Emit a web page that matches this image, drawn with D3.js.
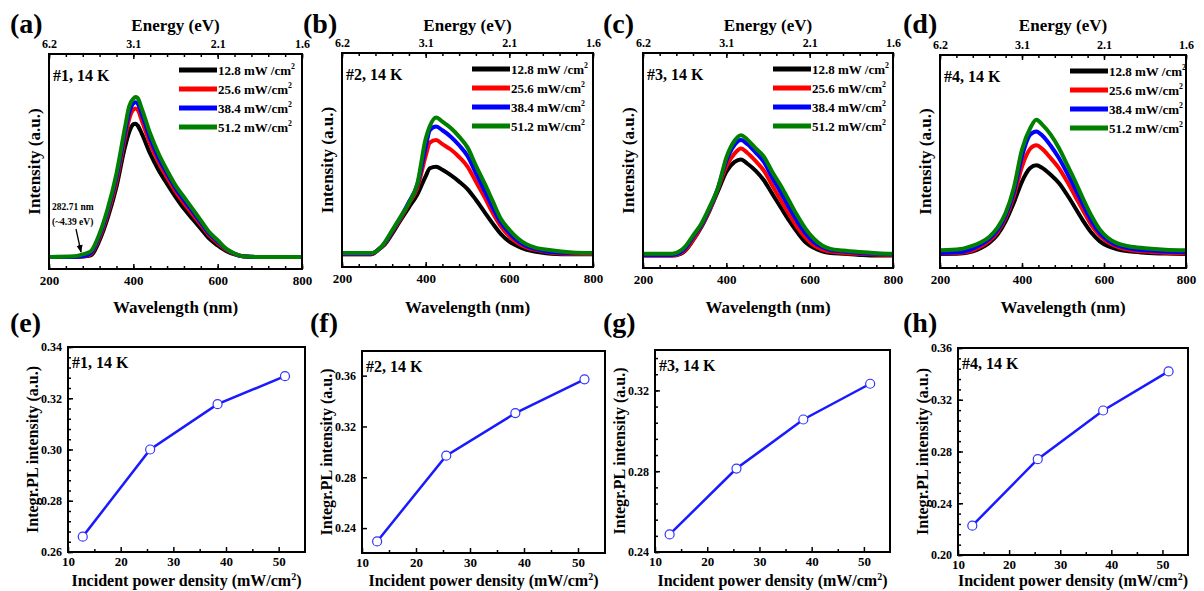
<!DOCTYPE html>
<html>
<head>
<meta charset="utf-8">
<script src="https://cdn.jsdelivr.net/npm/d3@7"></script>
<style>
  body { margin: 0; background: #fff; }
  svg { display: block; }
  svg text { font-family: "Liberation Serif", "Times New Roman", Times, "DejaVu Serif", serif !important; font-weight: bold; fill: #000; }
</style>
</head>
<body>
<div id="chart"></div>
<script>
// ---- data ----
const powers = [12.8, 25.6, 38.4, 51.2];
const legendLabels = ['12.8 mW /cm', '25.6 mW/cm', '38.4 mW/cm', '51.2 mW/cm'];
const seriesColors = ['#000000', '#ff0000', '#0000ff', '#008000'];
const wlTicks = [200, 400, 600, 800];
const energyLabels = ['6.2', '3.1', '2.1', '1.6'];

// (a) sample #1
const wlA = [200, 260, 280, 290, 300, 320, 340, 360, 380, 390, 400, 405, 410, 420, 440, 460, 480, 500, 520, 540, 560, 580, 600, 620, 640, 660, 700, 800];
const a128 = [0, 0, 0.2, 0.4, 0.8, 7.8, 18.6, 32.6, 51, 58, 61.7, 62, 61.2, 57.4, 48, 40.3, 34, 28, 22.5, 17.8, 13.2, 8.5, 5.4, 2.8, 1.2, 0.3, 0, 0];
const a256 = [0, 0, 0.3, 0.6, 1.5, 9, 20.5, 35, 55, 64, 68.5, 69, 68.5, 63.5, 52.5, 44, 37, 30.5, 25, 20, 15, 10, 6.5, 3.3, 1.4, 0.3, 0, 0];
const a384 = [0, 0, 0.4, 0.8, 2, 10, 21.8, 37, 57.5, 67, 71.5, 72, 71.5, 66.5, 55, 46, 38.8, 32, 26.5, 21.3, 16, 10.8, 7.2, 3.6, 1.5, 0.3, 0, 0];
const a512 = [0, 0.3, 1.2, 1.8, 2.8, 10.9, 23, 38.8, 60, 70, 73.6, 74.4, 74, 69, 57.4, 48, 40.3, 33.3, 27.9, 22.5, 17, 11.6, 7.8, 3.9, 1.6, 0.3, 0, 0];

// (b) sample #2
const wlB = [200, 270, 290, 300, 320, 340, 360, 380, 400, 410, 425, 440, 460, 480, 500, 520, 540, 560, 580, 600, 620, 640, 660, 700, 750, 800];
const b128 = [0, 0, 2.7, 4.2, 9.7, 16, 22, 28, 36.5, 40.2, 41, 39.5, 37, 34, 30.5, 25.5, 20, 14.5, 9.5, 6, 3.8, 2.2, 1.3, 0.3, 0, 0];
const b256 = [0, 0, 2.7, 4.5, 10.5, 16.7, 23.7, 31, 46, 52.2, 53.4, 51.5, 49, 45.5, 41, 34, 27, 19.5, 13, 8.5, 5.3, 3.3, 2.2, 0.8, 0.3, 0.2];
const b384 = [0.3, 0.3, 2.7, 4.7, 10.8, 17.2, 24.5, 32.5, 50, 58, 59.7, 58, 55, 51, 46, 38, 30, 22, 14.8, 10, 6.3, 4, 2.7, 1.1, 0.6, 0.5];
const b512 = [0.6, 0.6, 2.7, 5, 11.2, 17.5, 24, 33, 54, 60, 64, 62, 59, 55, 50, 41.5, 33.5, 25, 16.5, 11.5, 7.5, 4.8, 3.3, 1.9, 0.9, 0.6];

// (c) sample #3
const wlC = [200, 270, 290, 300, 320, 340, 360, 380, 400, 420, 435, 450, 470, 490, 510, 530, 550, 570, 590, 610, 630, 650, 680, 720, 760, 800];
const c128 = [0, 0, 0.8, 2, 7, 13.2, 21, 30, 39, 43.6, 44.7, 42.8, 39.5, 35, 28.8, 22.6, 16.4, 10.9, 6.2, 3.6, 2, 1.2, 0.8, 0.3, 0, 0];
const c256 = [0, 0, 1, 2.3, 7.3, 13.6, 21.3, 31, 41.5, 47.5, 49.8, 47.8, 44, 39.5, 32.7, 26, 19.5, 13.2, 8.3, 4.7, 2.8, 1.9, 1.2, 0.8, 0.5, 0.3];
const c384 = [0.3, 0.3, 1.5, 3.1, 8.6, 14.2, 22, 31.5, 44, 51.5, 53.7, 51.9, 48, 43.5, 36.3, 29.6, 22.6, 16, 10.4, 6.2, 3.9, 2.6, 1.9, 1.2, 0.8, 0.6];
const c512 = [0.8, 0.8, 2.3, 3.9, 9.3, 14.8, 22.6, 31.5, 45.5, 53.5, 56, 54, 50, 46, 39, 32.7, 25.7, 18.7, 12.5, 7.8, 4.7, 3.1, 2.3, 1.6, 1.1, 0.8];

// (d) sample #4
const wlD = [200, 250, 280, 300, 320, 340, 360, 380, 400, 420, 435, 450, 470, 490, 510, 530, 550, 570, 590, 610, 630, 660, 700, 750, 800];
const d128 = [0, 0.2, 1.2, 2.8, 5.2, 9, 15.3, 24, 34, 40.3, 41.6, 40.3, 37.2, 33.3, 27.8, 21.6, 15.3, 9.8, 5.9, 3.6, 2.3, 1.2, 0.6, 0.2, 0];
const d256 = [0.2, 0.5, 1.7, 3.6, 6.1, 10.2, 16.9, 27, 41, 49.4, 51, 49.2, 45, 40.3, 34, 27, 20, 13.3, 8.6, 5.5, 3.6, 2, 1.1, 0.5, 0.2];
const d384 = [0.5, 0.9, 2.5, 4.4, 7, 11.1, 18, 28.9, 45.8, 56, 57.5, 55.5, 50.8, 45, 38, 30.5, 22.7, 15.3, 9.8, 6.4, 4.2, 2.7, 1.7, 1.1, 0.8];
const d512 = [1.7, 2.3, 3.9, 5.5, 8, 12.2, 19.2, 31, 49, 59, 63, 60.6, 56, 49.7, 41.9, 34, 25.5, 17.7, 11.4, 7.5, 5.2, 3.6, 2.7, 2, 1.7];

// integrated PL intensity vs power density, (e)-(h)
const integE = [0.266, 0.300, 0.3177, 0.3286];
const integF = [0.2295, 0.297, 0.3305, 0.3571];
const integG = [0.2487, 0.2813, 0.3056, 0.3233];
const integH = [0.2227, 0.2741, 0.3117, 0.3419];
const powerTicks = [10, 20, 30, 40, 50];

// ---- layout ----
const W = 1204, H = 591;
const FONT = '"Liberation Serif", "Times New Roman", Times, "DejaVu Serif", serif';
const svg = d3.select('#chart').append('svg')
  .attr('width', W).attr('height', H)
  .attr('viewBox', `0 0 ${W} ${H}`)
  .attr('font-family', FONT);
svg.append('rect').attr('width', W).attr('height', H).attr('fill', '#fff');

const topPanels = [
  { letter: '(a)', tag: '#1, 14 K', lx: 10, box: { x0: 49, x1: 302, y0: 54, y1: 269 }, yDom: [-5.6, 94.4], wl: wlA, series: [a128, a256, a384, a512] },
  { letter: '(b)', tag: '#2, 14 K', lx: 303, box: { x0: 342, x1: 593, y0: 53, y1: 267 }, yDom: [-5.9, 94.1], wl: wlB, series: [b128, b256, b384, b512] },
  { letter: '(c)', tag: '#3, 14 K', lx: 603, box: { x0: 643, x1: 893, y0: 53, y1: 268 }, yDom: [-5.8, 94.2], wl: wlC, series: [c128, c256, c384, c512] },
  { letter: '(d)', tag: '#4, 14 K', lx: 903, box: { x0: 940, x1: 1186, y0: 55, y1: 268 }, yDom: [-6.6, 93.4], wl: wlD, series: [d128, d256, d384, d512] }
];

const bottomPanels = [
  { letter: '(e)', tag: '#1, 14 K', lx: 10, box: { x0: 68, x1: 305, y0: 347, y1: 552 }, yDom: [0.26, 0.34], yTicks: [0.26, 0.28, 0.30, 0.32, 0.34], minorStep: 0.004, vals: integE },
  { letter: '(f)', tag: '#2, 14 K', lx: 310, box: { x0: 362, x1: 605, y0: 351, y1: 553 }, yDom: [0.2204, 0.3794], yTicks: [0.24, 0.28, 0.32, 0.36], minorStep: 0.008, vals: integF },
  { letter: '(g)', tag: '#3, 14 K', lx: 603, box: { x0: 655, x1: 890, y0: 350, y1: 552 }, yDom: [0.24, 0.34], yTicks: [0.24, 0.28, 0.32], minorStep: 0.008, vals: integG },
  { letter: '(h)', tag: '#4, 14 K', lx: 903, box: { x0: 958, x1: 1188, y0: 348, y1: 555 }, yDom: [0.20, 0.36], yTicks: [0.20, 0.24, 0.28, 0.32, 0.36], minorStep: 0.008, vals: integH }
];

function addSup(sel, base, fs) {
  sel.append('tspan').text(base);
  sel.append('tspan').attr('dy', -fs * 0.4).attr('font-size', fs * 0.6).text('2');
}

function styleTicks(s, fs) {
  s.select('.domain').remove();
  s.selectAll('line').attr('stroke-width', 1.5);
  s.selectAll('text').attr('font-size', fs).attr('font-family', FONT).attr('font-weight', 'bold');
}

// ---- spectra, top row ----
topPanels.forEach((p, pi) => {
  const b = p.box;
  const x = d3.scaleLinear().domain([200, 800]).range([b.x0, b.x1]);
  const y = d3.scaleLinear().domain(p.yDom).range([b.y1, b.y0]);
  const g = svg.append('g');

  const clipId = 'clipTop' + pi;
  g.append('clipPath').attr('id', clipId)
    .append('rect').attr('x', b.x0).attr('y', b.y0).attr('width', b.x1 - b.x0).attr('height', b.y1 - b.y0);

  const line = d3.line()
    .x((d, i) => x(p.wl[i]))
    .y(d => y(d))
    .curve(d3.curveMonotoneX);

  g.append('g').attr('clip-path', `url(#${clipId})`)
    .selectAll('path').data(p.series).enter().append('path')
    .attr('d', d => line(d))
    .attr('fill', 'none')
    .attr('stroke', (d, i) => seriesColors[i])
    .attr('stroke-width', 4)
    .attr('stroke-linejoin', 'round');

  // bottom axis: wavelength
  const minor = d3.range(200, 801, 40);
  g.append('g').attr('transform', `translate(0,${b.y1})`)
    .call(d3.axisBottom(x).tickValues(minor).tickSize(-3).tickFormat(''))
    .call(s => styleTicks(s, 13));
  g.append('g').attr('transform', `translate(0,${b.y1})`)
    .call(d3.axisBottom(x).tickValues(wlTicks).tickSize(-5).tickPadding(7))
    .call(s => styleTicks(s, 13));

  // top axis: energy
  g.append('g').attr('transform', `translate(0,${b.y0})`)
    .call(d3.axisTop(x).tickValues(minor).tickSize(-3).tickFormat(''))
    .call(s => styleTicks(s, 13));
  g.append('g').attr('transform', `translate(0,${b.y0})`)
    .call(d3.axisTop(x).tickValues(wlTicks).tickSize(-5).tickPadding(6)
      .tickFormat((d, i) => energyLabels[i]))
    .call(s => styleTicks(s, 12));

  // frame
  g.append('rect').attr('x', b.x0).attr('y', b.y0)
    .attr('width', b.x1 - b.x0).attr('height', b.y1 - b.y0)
    .attr('fill', 'none').attr('stroke', '#000').attr('stroke-width', 2);

  const cx = (b.x0 + b.x1) / 2;
  g.append('text').attr('x', cx).attr('y', 31).attr('text-anchor', 'middle').attr('font-size', 17).text('Energy (eV)');
  g.append('text').attr('x', cx).attr('y', 313).attr('text-anchor', 'middle').attr('font-size', 17).text('Wavelength (nm)');
  g.append('text')
    .attr('transform', `translate(${b.x0 - 15},${(b.y0 + b.y1) / 2}) rotate(-90)`)
    .attr('text-anchor', 'middle').attr('dy', '0.35em').attr('font-size', 17)
    .text('Intensity (a.u.)');
  g.append('text').attr('x', p.lx).attr('y', 33).attr('font-size', 28).text(p.letter);
  g.append('text').attr('x', b.x0 + 4).attr('y', b.y0 + 27).attr('font-size', 16).text(p.tag);

  // legend
  const leg = g.append('g').attr('transform', `translate(${b.x0 + 130},${b.y0 + 16})`);
  legendLabels.forEach((lab, i) => {
    leg.append('line').attr('x1', 0).attr('x2', 38).attr('y1', i * 19).attr('y2', i * 19)
      .attr('stroke', seriesColors[i]).attr('stroke-width', 5);
    const t = leg.append('text').attr('x', 39).attr('y', i * 19).attr('dy', '0.35em').attr('font-size', 13);
    addSup(t, lab, 13);
  });
});

// annotation in (a)
{
  const gA = svg.append('g');
  gA.append('text').attr('x', 52).attr('y', 210).attr('font-size', 9.5).text('282.71 nm');
  gA.append('text').attr('x', 52).attr('y', 225).attr('font-size', 9.5).text('(~4.39 eV)');
  gA.append('defs').append('marker').attr('id', 'arrowA')
    .attr('viewBox', '0 0 10 10').attr('refX', 9).attr('refY', 5)
    .attr('markerWidth', 6).attr('markerHeight', 6).attr('orient', 'auto')
    .append('path').attr('d', 'M0,1 L10,5 L0,9 Z').attr('fill', '#000');
  gA.append('line').attr('x1', 76).attr('y1', 229).attr('x2', 81).attr('y2', 252)
    .attr('stroke', '#000').attr('stroke-width', 1.3).attr('marker-end', 'url(#arrowA)');
}

// ---- integrated intensity, bottom row ----
bottomPanels.forEach((p) => {
  const b = p.box;
  const x = d3.scaleLinear().domain([10, 55]).range([b.x0, b.x1]);
  const y = d3.scaleLinear().domain(p.yDom).range([b.y1, b.y0]);
  const g = svg.append('g');

  // x axis
  g.append('g').attr('transform', `translate(0,${b.y1})`)
    .call(d3.axisBottom(x).tickValues(d3.range(15, 55, 10)).tickSize(-3).tickFormat(''))
    .call(s => styleTicks(s, 13));
  g.append('g').attr('transform', `translate(0,${b.y1})`)
    .call(d3.axisBottom(x).tickValues(powerTicks).tickSize(-5).tickPadding(5))
    .call(s => styleTicks(s, 13));

  // y axis
  const minorY = d3.range(p.yDom[0], p.yDom[1] + 1e-9, 0.002).filter(v => {
    const k = (v - p.yTicks[0]) / p.minorStep;
    return Math.abs(k - Math.round(k)) < 0.01;
  });
  g.append('g').attr('transform', `translate(${b.x0},0)`)
    .call(d3.axisLeft(y).tickValues(minorY).tickSize(-3).tickFormat(''))
    .call(s => styleTicks(s, 12));
  g.append('g').attr('transform', `translate(${b.x0},0)`)
    .call(d3.axisLeft(y).tickValues(p.yTicks).tickSize(-5).tickPadding(6).tickFormat(d3.format('.2f')))
    .call(s => styleTicks(s, 12));

  // data
  const pts = powers.map((pw, i) => [pw, p.vals[i]]);
  g.append('path').datum(pts)
    .attr('d', d3.line().x(d => x(d[0])).y(d => y(d[1])))
    .attr('fill', 'none').attr('stroke', '#1a1aff').attr('stroke-width', 2.5);
  g.selectAll('circle').data(pts).enter().append('circle')
    .attr('cx', d => x(d[0])).attr('cy', d => y(d[1])).attr('r', 4.5)
    .attr('fill', '#fff').attr('stroke', '#3333ff').attr('stroke-width', 1.2);

  // frame
  g.append('rect').attr('x', b.x0).attr('y', b.y0)
    .attr('width', b.x1 - b.x0).attr('height', b.y1 - b.y0)
    .attr('fill', 'none').attr('stroke', '#000').attr('stroke-width', 2);

  const cx = (b.x0 + b.x1) / 2;
  const xl = g.append('text').attr('x', cx).attr('y', 586).attr('text-anchor', 'middle').attr('font-size', 16);
  xl.append('tspan').text('Incident power density (mW/cm');
  xl.append('tspan').attr('dy', -6).attr('font-size', 10).text('2');
  xl.append('tspan').attr('dy', 6).text(')');
  g.append('text')
    .attr('transform', `translate(${b.x0 - 36},${(b.y0 + b.y1) / 2}) rotate(-90)`)
    .attr('text-anchor', 'middle').attr('dy', '0.35em').attr('font-size', 16)
    .text('Integr.PL intensity (a.u.)');
  g.append('text').attr('x', p.lx).attr('y', 332).attr('font-size', 28).text(p.letter);
  g.append('text').attr('x', b.x0 + 4).attr('y', b.y0 + 21).attr('font-size', 16).text(p.tag);
});
</script>
</body>
</html>
